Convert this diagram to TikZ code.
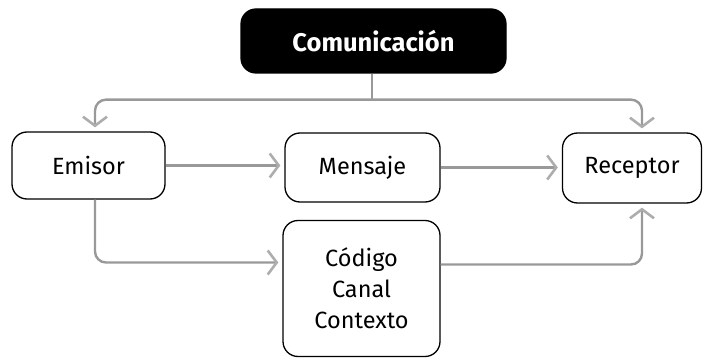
\documentclass[tikz,border=0pt]{standalone}
\usepackage{fontspec}
\setmainfont{Fira Sans}
\usetikzlibrary{arrows.meta,calc}
\begin{document}
\begin{tikzpicture}[x=1pt,y=-1pt,
  box/.style={draw=black, line width=1.3pt, rounded corners=15pt, align=center,
    font=\fontsize{23.5}{31}\selectfont, inner sep=0pt},
  conn/.style={draw=black!40, line width=2.4pt, rounded corners=11pt, shorten >=4pt,
    -{Straight Barb[length=9pt,width=24pt,line width=2.6pt,color=black!32]}},
  stub/.style={draw=black!40, line width=2.4pt}
]
\useasboundingbox (0,0) rectangle (704,358);
\node[box, fill=black, text=white, font=\bfseries\fontsize{25.5}{30}\selectfont,
  minimum width=265pt, minimum height=64pt] (title) at (373.5,41) {Comunicación};
\node[box, minimum width=153pt, minimum height=67pt] (emisor) at (88.5,165.5) {Emisor};
\node[box, minimum width=155pt, minimum height=69pt] (mensaje) at (362.5,167.5) {Mensaje};
\node[box, minimum width=139pt, minimum height=70pt] (receptor) at (632,168) {Receptor};
\node[box, minimum width=157pt, minimum height=136pt] (codigo) at (361.5,288.5) {Código\\Canal\\Contexto};
\coordinate (j) at ($(title.south)+(-1.5pt,-26pt)$);
\draw[stub] ([xshift=-1.5pt]title.south) -- (j);
\draw[conn] (j) -| ([xshift=6.5pt]emisor.north);
\draw[conn] (j) -| ([xshift=10pt]receptor.north);
\draw[conn] (emisor.east) -- (emisor.east -| mensaje.west);
\draw[conn] (mensaje.east) -- (mensaje.east -| receptor.west);
\draw[conn] ([xshift=6.5pt]emisor.south) |- ([yshift=26pt]codigo.west);
\draw[conn] ([yshift=24pt]codigo.east) -| ([xshift=10pt]receptor.south);
\end{tikzpicture}
\end{document}
